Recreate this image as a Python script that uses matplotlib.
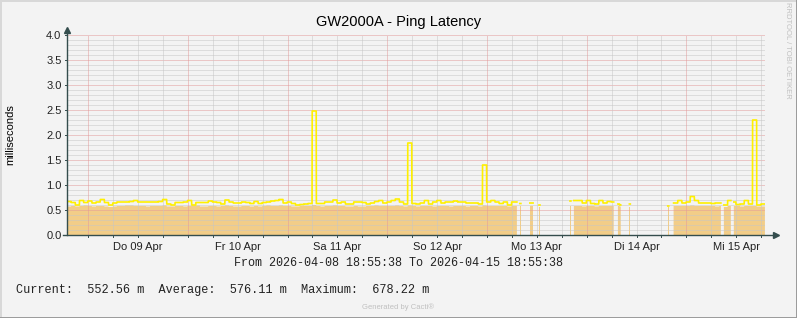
import numpy as np
import matplotlib
matplotlib.use('Agg')
import matplotlib.pyplot as plt
from matplotlib.lines import Line2D

# hours since 2026-04-08 18:55:38, one value per hour (None = no data)
latency_max = [
    0.67, 0.65, 0.60, 0.69, 0.65, 0.68, 0.64, 0.66, 0.71, 0.65, 0.60, 0.64,
    0.66, 0.66, 0.66, 0.67, 0.69, 0.66, 0.66, 0.66, 0.66, 0.66, 0.67, 0.71,
    0.62, 0.60, 0.65, 0.65, 0.66, 0.69, 0.60, 0.65, 0.65, 0.65, 0.68, 0.66,
    0.65, 0.62, 0.70, 0.66, 0.64, 0.64, 0.66, 0.65, 0.63, 0.67, 0.63, 0.65,
    0.66, 0.68, 0.69, 0.71, 0.64, 0.66, 0.63, 0.60, 0.61, 0.62, 0.63, 2.48,
    0.63, 0.63, 0.66, 0.66, 0.70, 0.64, 0.66, 0.62, 0.62, 0.66, 0.66, 0.65,
    0.62, 0.64, 0.67, 0.69, 0.64, 0.66, 0.69, 0.72, 0.66, 0.62, 1.84, 0.63,
    0.62, 0.64, 0.69, 0.62, 0.66, 0.69, 0.64, 0.66, 0.66, 0.68, 0.66, 0.66,
    0.64, 0.64, 0.64, 0.62, 1.40, 0.66, 0.69, 0.66, 0.63, 0.66, 0.60, 0.66,
    0.66, 0.63, None, 0.64, 0.64, 0.60, None, None, None, None, None, None,
    None, 0.68, 0.69, 0.69, 0.64, 0.69, 0.63, 0.62, 0.69, 0.64, 0.67, 0.66,
    0.62, 0.60, None, 0.62, None, None, None, None, None, None, None, None,
    0.58, None, 0.64, 0.69, 0.64, 0.66, 0.77, 0.69, 0.64, 0.64, 0.64, 0.63,
    0.64, 0.64, 0.60, 0.69, 0.66, 0.61, 0.62, 0.69, 0.62, 2.30, 0.60, 0.62,
]
latency_avg = [
    0.57, 0.58, 0.57, 0.58, 0.59, 0.58, 0.57, 0.58, 0.58, 0.57, 0.56, 0.57,
    0.58, 0.58, 0.59, 0.59, 0.58, 0.58, 0.58, 0.57, 0.58, 0.58, 0.58, 0.59,
    0.57, 0.57, 0.58, 0.58, 0.57, 0.58, 0.59, 0.59, 0.57, 0.57, 0.58, 0.58,
    0.57, 0.58, 0.59, 0.58, 0.57, 0.57, 0.58, 0.58, 0.57, 0.58, 0.57, 0.58,
    0.59, 0.58, 0.58, 0.59, 0.58, 0.58, 0.57, 0.57, 0.58, 0.58, 0.58, 0.60,
    0.58, 0.57, 0.58, 0.58, 0.59, 0.58, 0.58, 0.57, 0.57, 0.58, 0.57, 0.57,
    0.58, 0.58, 0.59, 0.58, 0.58, 0.58, 0.58, 0.59, 0.58, 0.57, 0.59, 0.58,
    0.57, 0.58, 0.58, 0.58, 0.57, 0.58, 0.58, 0.58, 0.57, 0.58, 0.58, 0.58,
    0.57, 0.58, 0.58, 0.57, 0.59, 0.58, 0.58, 0.58, 0.58, 0.58, 0.57, 0.58,
    0.58, 0.58, None, 0.58, 0.58, 0.57, None, None, None, None, None, None,
    None, 0.58, 0.58, 0.58, 0.57, 0.58, 0.58, 0.57, 0.58, 0.58, 0.58, 0.58,
    0.58, 0.57, None, 0.57, None, None, None, None, None, None, None, None,
    0.57, None, 0.58, 0.58, 0.58, 0.58, 0.59, 0.58, 0.58, 0.58, 0.58, 0.58,
    0.57, 0.58, 0.56, 0.58, 0.58, 0.58, 0.57, 0.58, 0.58, 0.58, 0.57, 0.57,
]
# periods (hours) where samples exist
available = [(0, 108.3), (109.0, 109.25), (111.4, 112.2), (113.6, 113.85),
             (121.05, 121.3), (122.0, 131.6), (132.6, 133.3), (135.35, 135.6),
             (144.6, 144.85), (146.0, 157.4), (158.1, 159.8), (160.5, 168)]

day_labels = ['Do 09 Apr', 'Fr 10 Apr', 'Sa 11 Apr', 'So 12 Apr',
              'Mo 13 Apr', 'Di 14 Apr', 'Mi 15 Apr']
first_midnight = 5.0728  # hours from start to 2026-04-09 00:00

W, H = 797, 318
bg = '#f3f3f3'
fig = plt.figure(figsize=(W / 100, H / 100), dpi=100, facecolor=bg)
ax = fig.add_axes([67 / W, (H - 235) / H, 698 / W, 200 / H], facecolor=bg)

mx = np.array([np.nan if v is None else v for v in latency_max])
av = np.array([np.nan if v is None else v for v in latency_avg])
t = np.arange(0, 168, 0.02)
idx = t.astype(int)
mask = np.zeros(len(t), dtype=bool)
for a, b in available:
    mask |= (t >= a) & (t < b)

ax.fill_between(t, 0, np.where(mask, av[idx], np.nan), where=mask,
                color='#f2cd88', lw=0, zorder=1)

# grid
dot = (0, (1, 1))
for y in np.arange(0.1, 4.01, 0.1):
    major = abs(y / 0.5 - round(y / 0.5)) < 1e-6
    ax.axhline(y, color='#e39a9a' if major else '#c6c6c6', lw=0.72, ls=dot, zorder=2)
for h in np.arange(first_midnight - 6, 168, 6):
    if h <= 0:
        continue
    major = abs(((h - first_midnight) / 24) - round((h - first_midnight) / 24)) < 1e-6
    ax.axvline(h, color='#e39a9a' if major else '#c6c6c6', lw=0.72, ls=dot, zorder=2)

ax.plot(t, np.where(mask, mx[idx], np.nan), color='#fff000', lw=1.2, zorder=3)

ax.set_xlim(0, 168)
ax.set_ylim(0, 4.0)
for s in ax.spines.values():
    s.set_visible(False)

axc = '#344d4d'
ax.set_yticks(np.arange(0, 4.01, 0.5))
ax.set_yticklabels(['%.1f' % v for v in np.arange(0, 4.01, 0.5)],
                   fontfamily='Liberation Sans', fontsize=8)
ax.set_xticks([first_midnight + 12 + 24 * i for i in range(7)])
ax.set_xticklabels(day_labels, fontfamily='Liberation Sans', fontsize=8)
ax.tick_params(axis='both', length=0, pad=4, colors='#222222')
ax.tick_params(axis='x', pad=5)

# axes with arrows
ax.plot([0, 0], [0, 4.08], color=axc, lw=1, clip_on=False, zorder=5)
ax.plot([-1, 170.5], [0, 0], color=axc, lw=1, clip_on=False, zorder=5)
ax.plot([0], [4.1], marker='^', ms=4, color=axc, clip_on=False, zorder=5)
ax.plot([170.7], [0], marker='>', ms=4, color=axc, clip_on=False, zorder=5)
for h in np.arange(first_midnight - 6, 168, 6):
    if h > 0:
        ax.plot([h, h], [0, -0.04], color=axc, lw=0.7, clip_on=False, zorder=5)
for y in np.arange(0.5, 4.01, 0.5):
    ax.plot([-0.5, 0], [y, y], color=axc, lw=0.7, clip_on=False, zorder=5)

fig.text(0.5, 1 - 22 / H, 'GW2000A - Ping Latency', ha='center', va='center',
         fontfamily='Liberation Sans', fontsize=10.5)
fig.text(10 / W, 1 - 135 / H, 'milliseconds', rotation=90, ha='center', va='center',
         fontfamily='Liberation Sans', fontsize=8)
fig.text(0.5, 1 - 263 / H, 'From 2026-04-08 18:55:38 To 2026-04-15 18:55:38',
         ha='center', va='center', fontfamily='Liberation Mono', fontsize=8.5, color='#222222')
fig.text(16 / W, 1 - 290 / H, 'Current:  552.56 m  Average:  576.11 m  Maximum:  678.22 m',
         ha='left', va='center', fontfamily='Liberation Mono', fontsize=8.6, color='#222222')
fig.text(0.5, 1 - 307 / H, 'Generated by Cacti®', ha='center', va='center',
         fontfamily='Liberation Sans', fontsize=5.5, color='#c0c0c0')
fig.text(788 / W, 1 - 50 / H, 'RRDTOOL / TOBI OETIKER', rotation=270, ha='center', va='center',
         fontfamily='Liberation Sans', fontsize=5.5, color='#c0c0c0')

# 3d frame
fig.add_artist(Line2D([0, 1], [1 - 0.5 / H, 1 - 0.5 / H], color='#d8d8d8', lw=1.4))
fig.add_artist(Line2D([0.5 / W, 0.5 / W], [0, 1], color='#d8d8d8', lw=1.4))
fig.add_artist(Line2D([0, 1], [0.5 / H, 0.5 / H], color='#9a9a9a', lw=1.4))
fig.add_artist(Line2D([1 - 0.5 / W, 1 - 0.5 / W], [0, 1], color='#9a9a9a', lw=1.4))

fig.savefig('out.png', dpi=100, facecolor=bg)
